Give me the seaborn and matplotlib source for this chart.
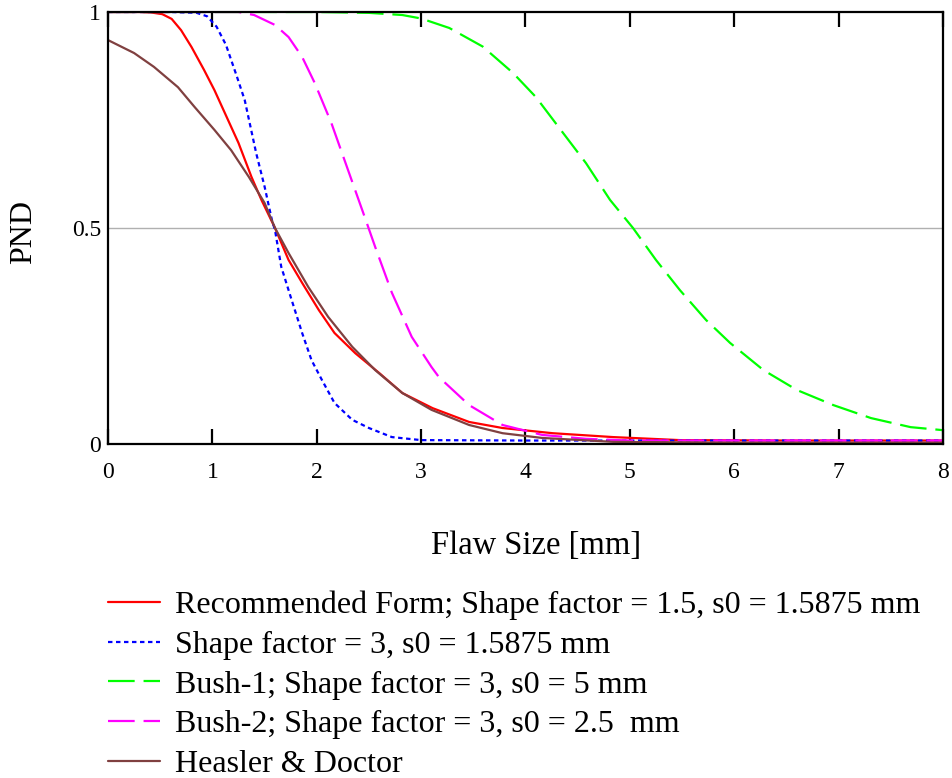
import matplotlib
matplotlib.use("Agg")
import matplotlib.pyplot as plt
import seaborn as sns
import pandas as pd

# ---- data ----
red_x = [0, 0.3, 0.41, 0.52, 0.61, 0.70, 0.80, 0.92, 1.02, 1.15, 1.25, 1.375, 1.47, 1.60, 1.73, 1.86,
         2.02, 2.17, 2.37, 2.60, 2.82, 3.11, 3.46, 3.78, 4.26, 4.84, 5.48, 6.5, 8.0]
red_y = [1, 1, 0.999, 0.995, 0.984, 0.958, 0.919, 0.866, 0.819, 0.75, 0.697, 0.618, 0.565, 0.50, 0.426, 0.373,
         0.31, 0.257, 0.21, 0.164, 0.118, 0.083, 0.051, 0.037, 0.025, 0.016, 0.009, 0.008, 0.008]

blue_x = [0, 0.6, 0.85, 0.95, 1.04, 1.13, 1.23, 1.31, 1.42, 1.50, 1.57, 1.60, 1.66, 1.76, 1.86,
          1.95, 2.05, 2.17, 2.34, 2.5, 2.72, 3.0, 4.0, 8.0]
blue_y = [1, 1, 0.998, 0.99, 0.966, 0.924, 0.854, 0.796, 0.673, 0.596, 0.519, 0.495, 0.41, 0.333, 0.257,
          0.194, 0.148, 0.095, 0.056, 0.037, 0.016, 0.009, 0.008, 0.008]

green_x = [0, 2.0, 2.5, 2.82, 3.0, 3.27, 3.59, 3.88, 4.10, 4.36, 4.58, 4.81, 5.03, 5.25, 5.48,
           5.73, 5.96, 6.28, 6.60, 6.95, 7.31, 7.69, 8.0]
green_y = [1, 1, 0.998, 0.993, 0.985, 0.963, 0.920, 0.859, 0.803, 0.72, 0.65, 0.565, 0.50, 0.426, 0.356,
           0.287, 0.234, 0.171, 0.125, 0.09, 0.06, 0.039, 0.032]

mag_x = [0, 1.25, 1.40, 1.60, 1.73, 1.86, 1.98, 2.14, 2.30, 2.46, 2.56, 2.72, 2.91, 3.10, 3.17,
         3.46, 3.78, 4.16, 4.58, 5.0, 8.0]
mag_y = [1, 1.0, 0.993, 0.97, 0.942, 0.896, 0.836, 0.743, 0.634, 0.525, 0.456, 0.35, 0.248, 0.178, 0.155,
         0.09, 0.044, 0.021, 0.012, 0.008, 0.008]

brown_x = [0, 0.25, 0.44, 0.67, 0.83, 1.02, 1.18, 1.35, 1.50, 1.60, 1.73, 1.92, 2.11, 2.34, 2.56,
           2.82, 3.10, 3.46, 3.78, 4.16, 4.84, 6.0, 8.0]
brown_y = [0.935, 0.905, 0.873, 0.826, 0.78, 0.727, 0.68, 0.618, 0.558, 0.50, 0.442, 0.363, 0.294, 0.225, 0.171,
           0.118, 0.079, 0.044, 0.025, 0.014, 0.005, 0.003, 0.003]

labels = ["Recommended Form; Shape factor = 1.5, s0 = 1.5875 mm",
          "Shape factor = 3, s0 = 1.5875 mm",
          "Bush-1; Shape factor = 3, s0 = 5 mm",
          "Bush-2; Shape factor = 3, s0 = 2.5  mm",
          "Heasler & Doctor"]

x_ticks = [0, 1, 2, 3, 4, 5, 6, 7, 8]
y_ticks = [0, 0.5, 1]
y_ticklabels = ["0", "0.5", "1"]

# ---- styling ----
sns.set_style("white")
plt.rcParams["font.family"] = ["Liberation Serif", "DejaVu Serif"]
plt.rcParams["text.color"] = "black"
plt.rcParams["axes.labelcolor"] = "black"
plt.rcParams["xtick.color"] = "black"
plt.rcParams["ytick.color"] = "black"

fig = plt.figure(figsize=(9.53, 7.78), dpi=100)
ax = fig.add_axes([108 / 953, 1 - 444 / 778, (943 - 108) / 953, (444 - 12) / 778])

series = [
    (red_x, red_y, labels[0], "#FF0000", (None, None)),
    (blue_x, blue_y, labels[1], "#0000FF", (2, 1.6)),
    (green_x, green_y, labels[2], "#00FF00", (12, 4)),
    (mag_x, mag_y, labels[3], "#FF00FF", (12, 4)),
    (brown_x, brown_y, labels[4], "#804040", (None, None)),
]

ax.axhline(0.5, color="#B0B0B0", lw=1, zorder=0)

handles = []
for xs, ys, lab, col, dash in series:
    df = pd.DataFrame({"x": xs, "y": ys})
    sns.lineplot(data=df, x="x", y="y", ax=ax, color=col, lw=1.6, label=lab,
                 estimator=None, sort=False)
    line = ax.lines[-1]
    if dash[0] is not None:
        line.set_dashes(dash)
    handles.append(line)

ax.set_xlim(0, 8)
ax.set_ylim(0, 1)
ax.set_xticks(x_ticks)
ax.set_xticklabels([str(t) for t in x_ticks])
ax.set_yticks(y_ticks)
ax.set_yticklabels(y_ticklabels)

for s in ax.spines.values():
    s.set_color("black")
    s.set_linewidth(1.6)

ax.tick_params(axis="x", direction="in", length=11, width=1.6, top=True, bottom=True,
               labelsize=17, pad=13, colors="black")
ax.tick_params(axis="y", length=0, labelsize=17, pad=5, colors="black")

ax.set_xlabel("Flaw Size [mm]", fontsize=23.5, color="black")
ax.xaxis.set_label_coords(536 / 953, 1 - 546 / 778, transform=fig.transFigure)
ax.xaxis.label.set_va("center")
ax.set_ylabel("PND", fontsize=23, color="black")
ax.yaxis.set_label_coords(24 / 953, 1 - 232 / 778, transform=fig.transFigure)
ax.yaxis.label.set_va("center")

leg = ax.get_legend()
if leg is not None:
    leg.remove()
lg = fig.legend(handles=handles, labels=labels, loc="upper left",
                bbox_to_anchor=(108 / 953, 1 - 591 / 778), frameon=False,
                fontsize=23, handlelength=1.63, handletextpad=0.47, labelspacing=0.32,
                borderaxespad=0, borderpad=0)
for t in lg.get_texts():
    t.set_color("black")

fig.savefig("out.png", dpi=100)
